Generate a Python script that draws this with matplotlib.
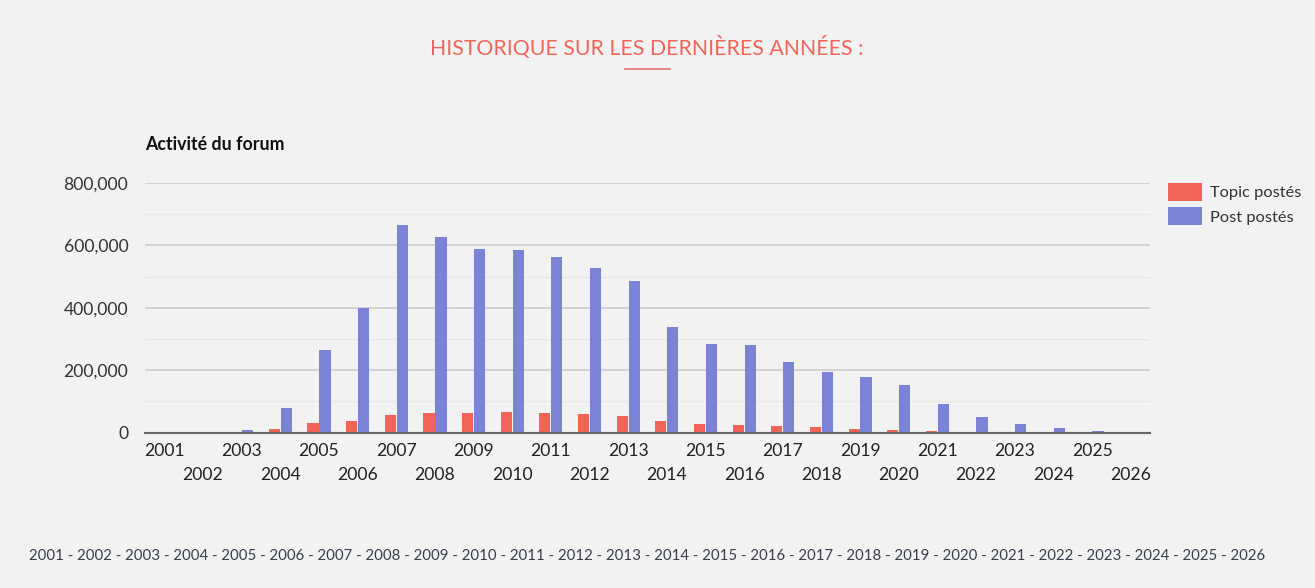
import numpy as np
import matplotlib
matplotlib.use("Agg")
import matplotlib.pyplot as plt
from matplotlib.ticker import FuncFormatter, MultipleLocator

plt.rcParams['font.family'] = ['Lato', 'DejaVu Sans']

years = [str(y) for y in range(2001, 2027)]
topics = [100, 150, 2000, 12800, 30900, 38300, 56400, 62800, 62800, 67100,
          62800, 59600, 53200, 38300, 27700, 24500, 20200, 17000, 12800, 9600,
          6400, 3000, 1000, 500, 300, 100]
posts = [500, 1000, 8500, 77700, 266000, 400500, 664600, 627300, 586800, 583600,
         562400, 526200, 486700, 337700, 283300, 280100, 225800, 193800, 178900, 153400,
         91600, 49000, 26600, 16000, 5300, 1000]

bg = '#f2f2f2'
red = '#f26457'
blue = '#7b83d6'

fig = plt.figure(figsize=(13.15, 5.88), dpi=100, facecolor=bg)
ax = fig.add_axes([145 / 1315, (588 - 432.5) / 588, 1005 / 1315, 249.5 / 588])
ax.set_facecolor(bg)

x = np.arange(len(years))
w = 0.29
ax.bar(x - 0.155, topics, width=w, color=red, label='Topic postés', zorder=3)
ax.bar(x + 0.155, posts, width=w, color=blue, label='Post postés', zorder=3)

ax.set_xlim(-0.5, len(years) - 0.5)
ax.set_ylim(0, 800000)
ax.yaxis.set_major_locator(MultipleLocator(200000))
ax.yaxis.set_minor_locator(MultipleLocator(100000))
ax.yaxis.set_major_formatter(FuncFormatter(lambda v, p: f"{int(v):,}"))
ax.grid(axis='y', which='major', color='#cccccc', linewidth=1.2, zorder=0)
ax.grid(axis='y', which='minor', color='#e9e9e9', linewidth=1.0, zorder=0)
ax.tick_params(axis='y', which='both', length=0, pad=12, labelsize=12.6, labelcolor='#333333')
ax.tick_params(axis='x', length=0)
ax.set_xticks(x)
ax.set_xticklabels([])
for s in ['top', 'right', 'left']:
    ax.spines[s].set_visible(False)
ax.spines['bottom'].set_color('#666666')
ax.spines['bottom'].set_linewidth(1.5)
ax.spines['bottom'].set_zorder(4)

# x labels on two rows (odd years above, even years below)
for i, yr in enumerate(years):
    off = -18.5 if i % 2 == 0 else -42.5
    ax.annotate(yr, xy=(i, 0), xycoords=ax.get_xaxis_transform(),
                xytext=(0, off), textcoords='offset pixels',
                ha='center', va='center', fontsize=12.6, color='#222222')

ax.text(0, 1.155, 'Activité du forum', transform=ax.transAxes, ha='left', va='center',
        fontsize=12.8, fontweight='bold', color='#111111')

fig.legend(loc='upper left', bbox_to_anchor=(1153 / 1315, 1 - 168 / 588), frameon=False,
           fontsize=11.8, handlelength=2.1, handleheight=1.35, handletextpad=0.5,
           labelspacing=0.35, labelcolor='#333333')

fig.text(647 / 1315, 1 - 47 / 588, 'HISTORIQUE SUR LES DERNIÈRES ANNÉES :', ha='center',
         va='center', fontsize=15.3, color=red)
fig.add_artist(plt.Line2D([625 / 1315, 670 / 1315], [1 - 69 / 588, 1 - 69 / 588],
                          color='#e8776c', linewidth=1.2))

fig.text(647 / 1315, 1 - 556 / 588, ' - '.join(years), ha='center', va='center',
         fontsize=10.85, color='#3a3f4a')

fig.savefig('out.png', dpi=100, facecolor=bg)
